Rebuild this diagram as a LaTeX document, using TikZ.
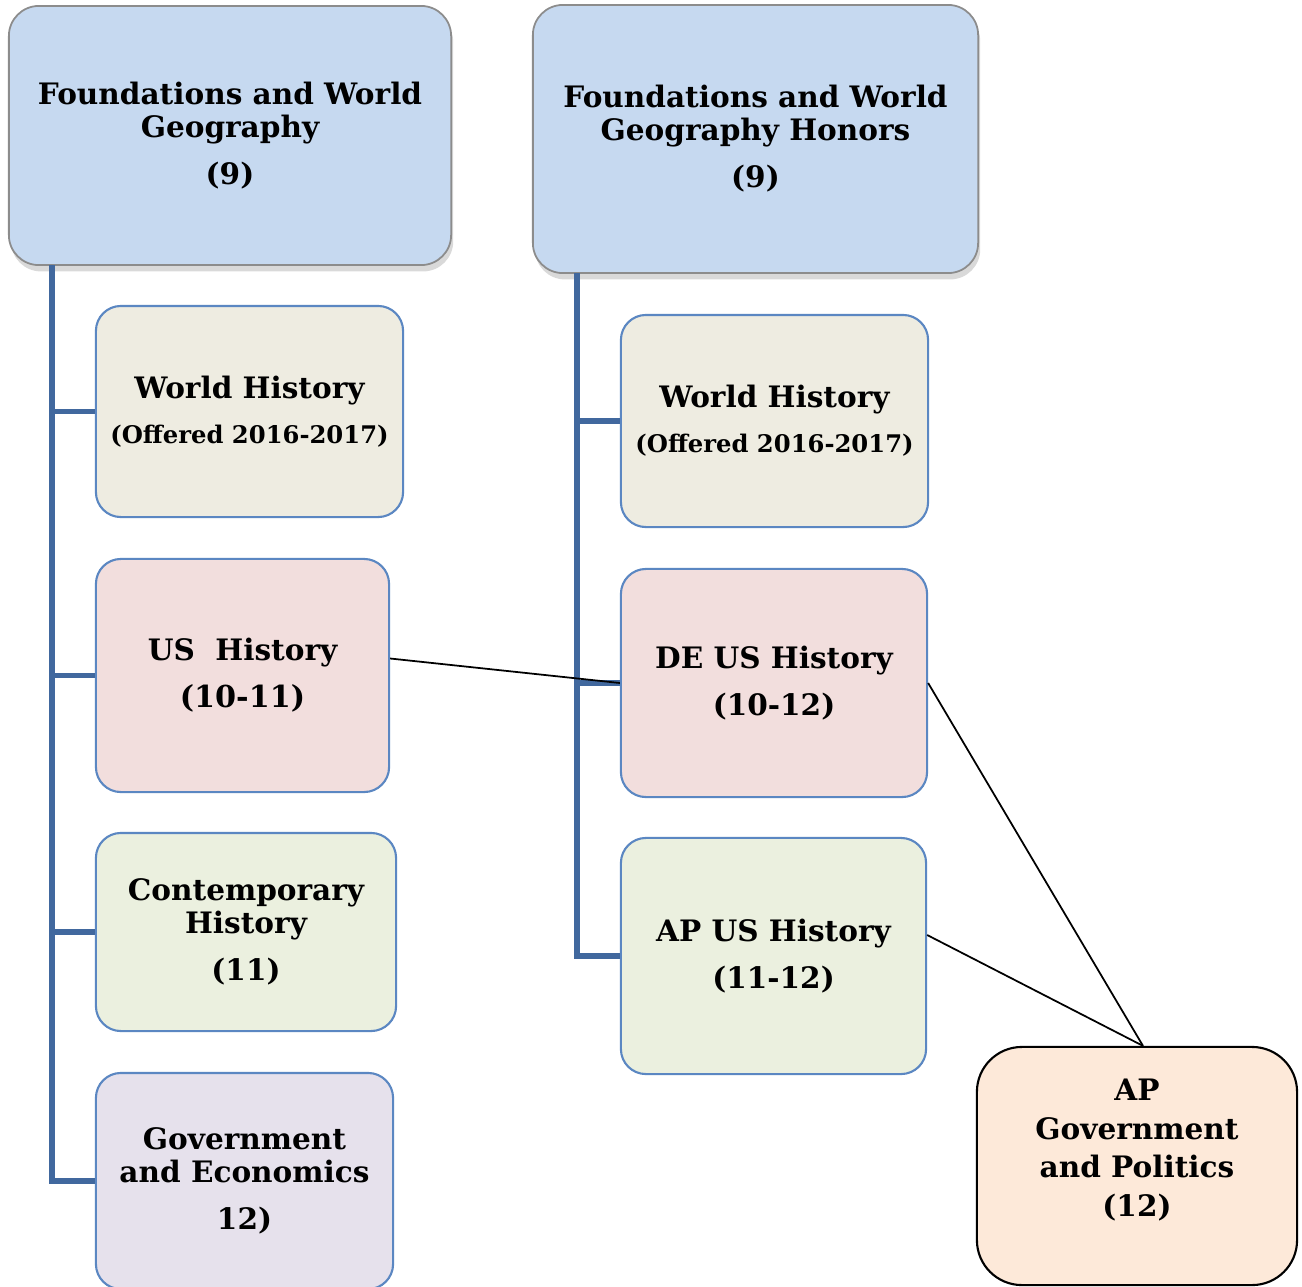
\documentclass[tikz,border=0pt]{standalone}
\usepackage{fontspec}
\setmainfont{DejaVu Serif}
\usetikzlibrary{positioning, shadows}

\definecolor{rootblue}{HTML}{C6D9F0}
\definecolor{rootline}{HTML}{8C8C8C}
\definecolor{boxline}{HTML}{5B87C2}
\definecolor{trunkblue}{HTML}{41689E}
\definecolor{beige}{HTML}{EEECE1}
\definecolor{pink}{HTML}{F2DEDD}
\definecolor{pale}{HTML}{EBF0DF}
\definecolor{lilac}{HTML}{E6E1EC}
\definecolor{peach}{HTML}{FDE9D9}

\tikzset{
  root/.style={draw=rootline, fill=rootblue, line width=0.5pt, rounded corners=0.3cm,
    drop shadow={opacity=0.3, shadow xshift=0.6pt, shadow yshift=-1.8pt},
    align=center, font=\fontsize{8.4}{9.4}\selectfont\bfseries},
  course/.style={draw=boxline, line width=0.6pt, rounded corners=0.25cm,
    align=center, font=\fontsize{8.4}{9.4}\selectfont\bfseries},
  trunk/.style={trunkblue, line width=1.5pt},
  link/.style={black, line width=0.5pt},
}

\begin{document}
\begin{tikzpicture}[x=0.01cm, y=-0.01cm]
\useasboundingbox (0,0) rectangle (1302,1287);

% grade 9
\node[root, minimum width=4.42cm, minimum height=2.59cm] (fwg) at (230,135.5)
  {Foundations and World\\Geography\\[0.14cm](9)};
\node[root, minimum width=4.45cm, minimum height=2.68cm] (fwgh) at (755.5,139)
  {Foundations and World\\Geography Honors\\[0.14cm](9)};

% regular track
\node[course, fill=beige, minimum width=3.07cm, minimum height=2.11cm] (wh1) at (249.5,411.5)
  {World History\\[0.12cm]{\fontsize{6.9}{8}\selectfont(Offered 2016-2017)}};
\node[course, fill=pink, minimum width=2.93cm, minimum height=2.33cm] (ush) at (242.5,675.5)
  {US\ \ History\\[0.14cm]{\fontsize{8.6}{10}\selectfont(10-11)}};
\node[course, fill=pale, minimum width=3.0cm, minimum height=1.98cm] (conh) at (246,932)
  {Contemporary\\History\\[0.14cm](11)};
\node[course, fill=lilac, minimum width=2.97cm, minimum height=2.16cm] (gove) at (244.5,1181)
  {Government\\and Economics\\[0.14cm]12)};

% honors track
\node[course, fill=beige, minimum width=3.07cm, minimum height=2.12cm] (wh2) at (774.5,421)
  {World History\\[0.12cm]{\fontsize{6.9}{8}\selectfont(Offered 2016-2017)}};
\node[course, fill=pink, minimum width=3.06cm, minimum height=2.28cm] (deus) at (774,683)
  {DE US History\\[0.14cm](10-12)};
\node[course, fill=pale, minimum width=3.05cm, minimum height=2.36cm] (apus) at (773.5,956)
  {AP US History\\[0.14cm](11-12)};

% grade 12
\node[draw=black, fill=peach, line width=0.6pt, rounded corners=0.45cm,
  minimum width=3.2cm, minimum height=2.38cm] (apgov) at (1137,1166) {};
\node[align=center, font=\fontsize{8.4}{11}\selectfont\bfseries] (apgov-text) at (1137,1150)
  {AP\\Government\\and Politics\\(12)};

% trunks
\coordinate (ltop) at (52,265);
\coordinate (rtop) at (577,273);
\draw[trunk] (ltop) |- (gove.west);
\foreach \n in {wh1, ush, conh}
  \draw[trunk] (ltop |- \n.west) -- (\n.west);
\draw[trunk] (rtop) |- (apus.west);
\foreach \n in {wh2, deus}
  \draw[trunk] (rtop |- \n.west) -- (\n.west);

% links
\draw[link] ([yshift=0.17cm] ush.east) -- (deus.west);
\draw[link] (deus.east) -- ([xshift=0.06cm] apgov.north);
\draw[link] ([yshift=0.21cm] apus.east) -- ([xshift=0.06cm] apgov.north);

\end{tikzpicture}
\end{document}
